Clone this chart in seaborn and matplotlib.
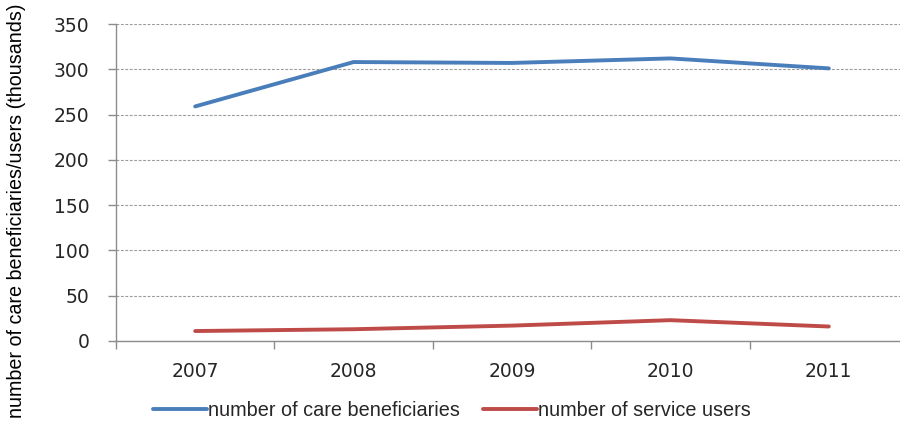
import matplotlib
matplotlib.use("Agg")
import matplotlib.pyplot as plt
import seaborn as sns
import pandas as pd
import numpy as np
from matplotlib.ticker import FixedLocator

years = ["2007", "2008", "2009", "2010", "2011"]
care_beneficiaries = [259, 308, 307, 312, 301]
service_users = [11, 13, 17, 23, 16]
series_names = ["number of care beneficiaries", "number of service users"]
colors = ["#4a7ebb", "#be4b48"]

df = pd.DataFrame({
    "pos": list(range(len(years))) * 2,
    "value": care_beneficiaries + service_users,
    "series": [series_names[0]] * len(years) + [series_names[1]] * len(years),
})

sns.set_style("white")
plt.rcParams["font.family"] = ["DejaVu Sans"]

fig = plt.figure(figsize=(9, 4.26), dpi=100)
ax = fig.add_axes([116 / 900, 1 - 341 / 426, 792 / 900, (341 - 24) / 426])

sns.lineplot(data=df, x="pos", y="value", hue="series", palette=colors,
             linewidth=2.8, ax=ax, legend=False, solid_capstyle="round")

ax.set_xlim(-0.5, len(years) - 0.5)
ax.set_ylim(0, 350)
ax.set_yticks(np.arange(0, 351, 50))
ax.set_xticks(range(len(years)))
ax.set_xticklabels(years)
ax.xaxis.set_minor_locator(FixedLocator(np.arange(-0.5, len(years), 1.0)))

ax.yaxis.grid(True, linestyle=(0, (2.5, 1.5)), color="#9a9a9a", linewidth=0.8)
ax.set_axisbelow(True)
for side in ["top", "right"]:
    ax.spines[side].set_visible(False)
for side in ["left", "bottom"]:
    ax.spines[side].set_color("#8c8c8c")
    ax.spines[side].set_linewidth(1.0)

ax.tick_params(axis="y", which="major", length=6, width=1.0, color="#8c8c8c",
               labelsize=13.5, labelcolor="#262626", pad=13, left=True)
ax.tick_params(axis="x", which="major", length=0, labelsize=13.5,
               labelcolor="#262626", pad=15)
ax.tick_params(axis="x", which="minor", length=6, width=1.0, color="#8c8c8c",
               bottom=True)

ax.set_xlabel("")
ax.set_ylabel("number of care beneficiaries/users (thousands)",
              family="Liberation Sans", fontsize=14.2, color="#000000")
ax.yaxis.set_label_coords(-0.114, 0.41)

handles = [plt.Line2D([], [], color=c, linewidth=2.8) for c in colors]
fig.legend(handles, series_names, loc="center", bbox_to_anchor=(0.502, 0.037),
           ncol=2, frameon=False, handlelength=2.7, handletextpad=0.05,
           columnspacing=1.2, prop={"family": "Liberation Sans", "size": 14.3})

fig.savefig("out.png", dpi=100)
